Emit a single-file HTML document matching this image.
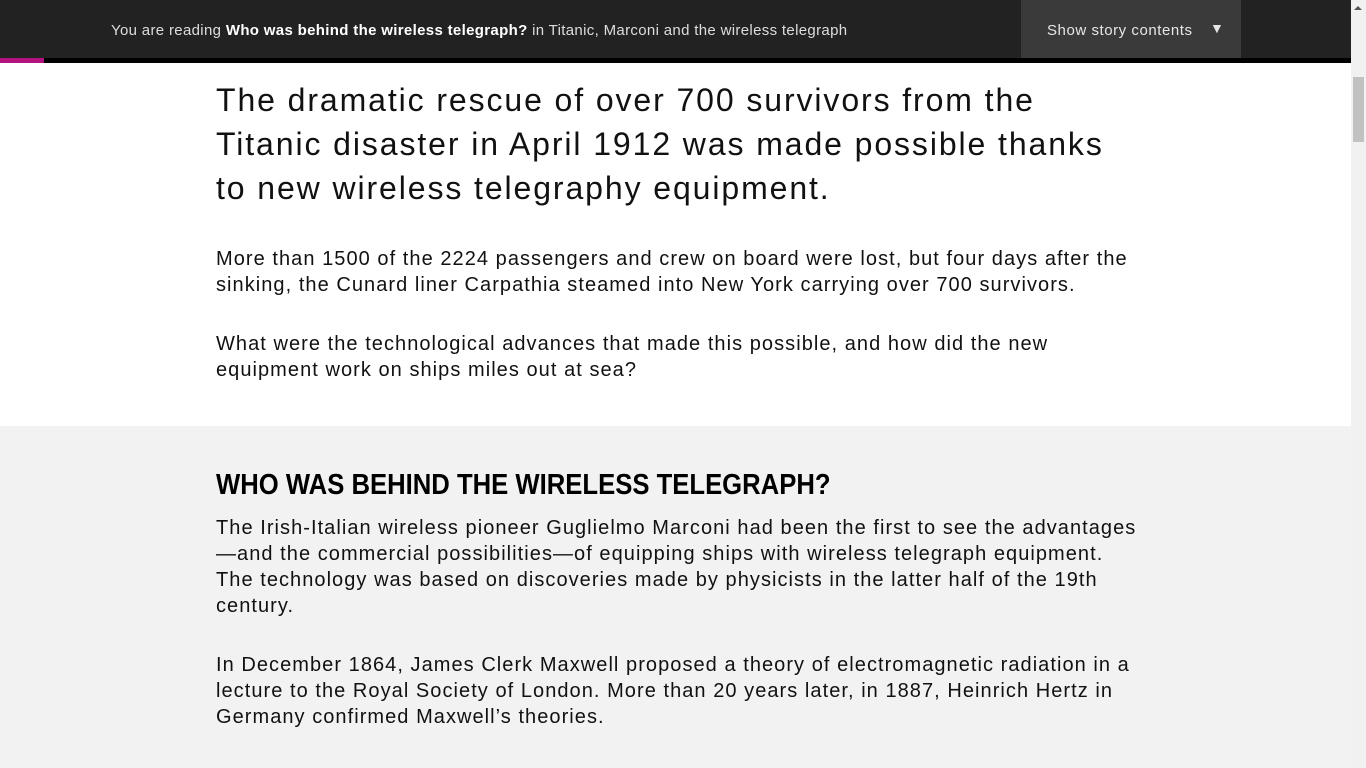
<!DOCTYPE html>
<html><head><meta charset="utf-8"><style>
*{margin:0;padding:0;box-sizing:border-box}
body{width:1366px;height:768px;overflow:hidden;background:#fff;font-family:"Liberation Sans",sans-serif;color:#111;position:relative}
.bar{position:absolute;left:0;top:0;width:1351px;height:58px;background:#222}
.band{position:absolute;left:0;top:58px;width:1351px;height:5px;background:#000}
.prog{position:absolute;left:0;top:58px;width:44px;height:5px;background:#b3127f}
.reading{position:absolute;left:111px;top:22px;font-size:15px;color:#ddd;white-space:nowrap;letter-spacing:0.33px}
.reading b{color:#fff}
.btn{position:absolute;left:1021px;top:0;width:220px;height:58px;background:#3a3a3a;color:#e6e6e6;font-size:15px;padding:22px 0 0 26px;white-space:nowrap;letter-spacing:0.55px}
.btn span{position:absolute;left:189px;top:20px;font-size:14px}
.scroll{position:absolute;left:1351px;top:0;width:15px;height:768px;background:#f1f1f1}
.thumb{position:absolute;left:1353px;top:77px;width:11px;height:65px;background:#c1c1c1}
.up{position:absolute;left:1354px;top:6px;width:0;height:0;border-left:4px solid transparent;border-right:4px solid transparent;border-bottom:4px solid #555}
.gray{position:absolute;left:0;top:426px;width:1351px;height:342px;background:#f2f2f2}
.t{position:absolute;left:216px;white-space:nowrap}
.intro{font-size:32px;line-height:44px;top:78px;letter-spacing:1.9px}
.p{font-size:20px;line-height:26px;letter-spacing:1.05px}
h2{position:absolute;left:216px;top:467px;font-size:29px;line-height:36px;font-weight:bold;white-space:nowrap;transform:scaleX(0.885);transform-origin:left top;color:#000}
</style></head><body>
<div class="bar"></div>
<div class="reading">You are reading <b>Who was behind the wireless telegraph?</b> in Titanic, Marconi and the wireless telegraph</div>
<div class="btn">Show story contents<span>▼</span></div>
<div class="band"></div>
<div class="prog"></div>
<div class="gray"></div>
<div class="t intro">The dramatic rescue of over 700 survivors from the<br>Titanic disaster in April 1912 was made possible thanks<br>to new wireless telegraphy equipment.</div>
<div class="t p" style="top:246px">More than 1500 of the 2224 passengers and crew on board were lost, but four days after the<br>sinking, the Cunard liner Carpathia steamed into New York carrying over 700 survivors.</div>
<div class="t p" style="top:331px">What were the technological advances that made this possible, and how did the new<br>equipment work on ships miles out at sea?</div>
<h2>WHO WAS BEHIND THE WIRELESS TELEGRAPH?</h2>
<div class="t p" style="top:515px">The Irish-Italian wireless pioneer Guglielmo Marconi had been the first to see the advantages<br>—and the commercial possibilities—of equipping ships with wireless telegraph equipment.<br>The technology was based on discoveries made by physicists in the latter half of the 19th<br>century.</div>
<div class="t p" style="top:652px">In December 1864, James Clerk Maxwell proposed a theory of electromagnetic radiation in a<br>lecture to the Royal Society of London. More than 20 years later, in 1887, Heinrich Hertz in<br>Germany confirmed Maxwell’s theories.</div>
<div class="scroll"></div>
<div class="up"></div>
<div class="thumb"></div>
</body></html>
